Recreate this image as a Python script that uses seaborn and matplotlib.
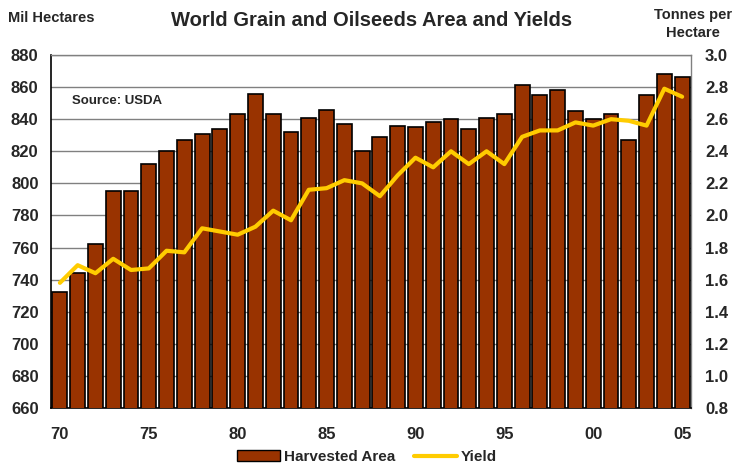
import numpy as np
import pandas as pd
import matplotlib
matplotlib.use("Agg")
import matplotlib.pyplot as plt
import seaborn as sns
from matplotlib.patches import Patch
from matplotlib.lines import Line2D

years = list(range(1970, 2006))
area = [732, 744, 762, 795, 795, 812, 820, 827, 831, 834,
        843, 856, 843, 832, 841, 846, 837, 820, 829, 836,
        835, 838, 840, 834, 841, 843, 861, 855, 858, 845,
        840, 843, 827, 855, 868, 866]
yield_t = [1.58, 1.69, 1.64, 1.73, 1.66, 1.67, 1.78, 1.77, 1.92, 1.90,
           1.88, 1.93, 2.03, 1.97, 2.16, 2.17, 2.22, 2.20, 2.12, 2.25,
           2.36, 2.30, 2.40, 2.32, 2.40, 2.32, 2.49, 2.53, 2.53, 2.58,
           2.56, 2.60, 2.59, 2.56, 2.79, 2.74]
tick_labels = ["70", "75", "80", "85", "90", "95", "00", "05"]

sns.set_theme(style="white")
plt.rcParams['font.family'] = ['Liberation Sans', 'DejaVu Sans']

df = pd.DataFrame({"year": years, "area": area, "yield": yield_t})
df["pos"] = np.arange(len(df))

fig = plt.figure(figsize=(7.37, 4.68), dpi=100)
ax = fig.add_axes([51/737, 1-408/468, 640/737, 353/468])

bar_color = "#993300"
line_color = "#FFCC00"

sns.barplot(data=df, x="pos", y="area", color=bar_color, saturation=1,
            width=0.84, edgecolor="black", linewidth=1.2, ax=ax, zorder=3)
ax.set_ylim(660, 880)
ax.set_yticks(np.arange(660, 881, 20))
ax.grid(axis="y", color="#808080", linewidth=1, zorder=0)
ax.set_axisbelow(True)
ax.set_xlim(-0.5, len(df) - 0.5)
ax.set_xticks(np.arange(0, len(df), 5))
ax.set_xticklabels(tick_labels)
ax.set_xlabel("")
ax.set_ylabel("")
for lab in ax.get_xticklabels() + ax.get_yticklabels():
    lab.set_fontweight("bold")
    lab.set_fontsize(12)
ax.tick_params(axis="y", length=0, pad=9)
ax.tick_params(axis="x", length=0, pad=14)
for s in ["left", "bottom"]:
    ax.spines[s].set_color("black")
    ax.spines[s].set_linewidth(1.2)
for s in ["top", "right"]:
    ax.spines[s].set_color("#808080")
    ax.spines[s].set_linewidth(1)

ax2 = ax.twinx()
sns.lineplot(data=df, x="pos", y="yield", color=line_color, linewidth=3,
             ax=ax2, zorder=5)
ax2.set_ylim(0.8, 3.0)
ax2.set_yticks(np.round(np.arange(0.8, 3.01, 0.2), 1))
ax2.set_yticklabels([f"{v:.1f}" for v in np.arange(0.8, 3.01, 0.2)])
ax2.set_ylabel("")
ax2.set_xlabel("")
ax2.grid(False)
ax2.tick_params(axis="y", length=0, pad=10)
for lab in ax2.get_yticklabels():
    lab.set_fontweight("bold")
    lab.set_fontsize(12)
for s in ax2.spines.values():
    s.set_visible(False)

fig.text(372/737, 1-20/468, "World Grain and Oilseeds Area and Yields",
         ha="center", va="center", fontsize=14.5, fontweight="bold")
fig.text(8/737, 1-18/468, "Mil Hectares", ha="left", va="center",
         fontsize=10.5, fontweight="bold")
fig.text(693/737, 1-24/468, "Tonnes per\nHectare", ha="center", va="center",
         fontsize=10.5, fontweight="bold", linespacing=1.35)
ax.text(72/737, 1-101/468, "Source: USDA", transform=fig.transFigure,
        ha="left", va="center", fontsize=9.5, fontweight="bold")

handles = [Patch(facecolor=bar_color, edgecolor="black", label="Harvested Area"),
           Line2D([0], [0], color=line_color, linewidth=3, label="Yield")]
fig.legend(handles=handles, loc="center", bbox_to_anchor=(367/737, 1-457/468),
           ncol=2, frameon=False, prop={"weight": "bold", "size": 11},
           handlelength=2.8, columnspacing=1.2, handletextpad=0.3)

fig.savefig("out.png", dpi=100)
